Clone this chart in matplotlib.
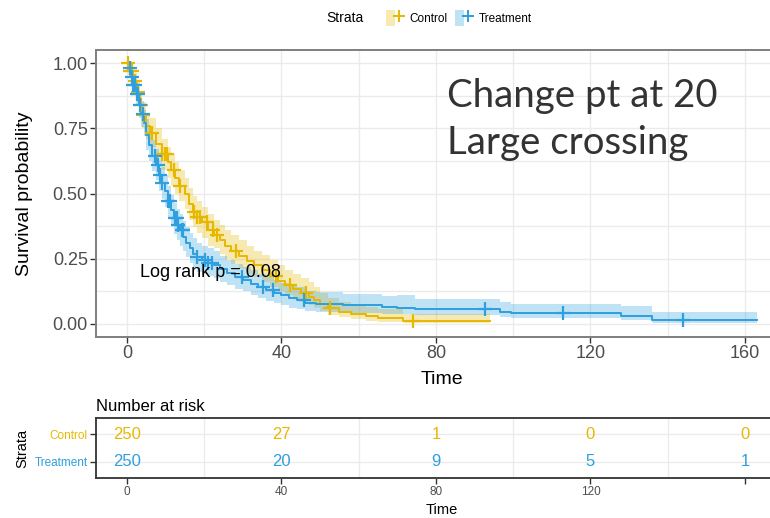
import numpy as np
import matplotlib.pyplot as plt
from matplotlib.patches import Patch
from matplotlib.lines import Line2D
from matplotlib.legend_handler import HandlerTuple

plt.rcParams['font.family'] = ['Liberation Sans', 'DejaVu Sans']

CTRL_COL = '#E7B800'
TRT_COL = '#2E9FDF'

# Kaplan-Meier steps: time, survival, lower / upper 95% CI
ctrl_time = [0, 0.8, 1.6, 2.5, 3.3, 4, 4.8, 6, 7.5, 9, 10.5, 11.5, 12.5, 13.5, 15, 16, 17, 18,
             19.5, 21, 22.5, 24, 25.5, 27, 29, 31, 33, 35, 37, 39, 41, 43, 45, 47, 48.5, 50,
             52, 55, 58, 62, 65, 71.5]
ctrl_surv = [1.00, 0.97, 0.93, 0.89, 0.84, 0.80, 0.76, 0.73, 0.69, 0.65, 0.62, 0.59, 0.56, 0.53,
             0.50, 0.46, 0.43, 0.41, 0.39, 0.36, 0.34, 0.32, 0.30, 0.28, 0.26, 0.24, 0.225, 0.205,
             0.185, 0.165, 0.15, 0.135, 0.12, 0.105, 0.09, 0.075, 0.06, 0.047, 0.038, 0.03, 0.024,
             0.012]
ctrl_lo = [1.00, 0.95, 0.90, 0.85, 0.80, 0.75, 0.71, 0.68, 0.63, 0.59, 0.56, 0.53, 0.50, 0.47,
           0.44, 0.40, 0.37, 0.35, 0.33, 0.30, 0.29, 0.27, 0.25, 0.23, 0.21, 0.19, 0.18, 0.16,
           0.14, 0.125, 0.11, 0.095, 0.085, 0.072, 0.06, 0.048, 0.036, 0.026, 0.019, 0.013,
           0.009, 0.002]
ctrl_hi = [1.00, 0.99, 0.96, 0.93, 0.89, 0.85, 0.81, 0.79, 0.75, 0.71, 0.68, 0.65, 0.62, 0.59,
           0.56, 0.52, 0.49, 0.47, 0.45, 0.42, 0.40, 0.38, 0.36, 0.34, 0.32, 0.30, 0.28, 0.265,
           0.245, 0.225, 0.205, 0.19, 0.175, 0.16, 0.14, 0.12, 0.10, 0.085, 0.075, 0.065, 0.058,
           0.040]
ctrl_end = 94.0
ctrl_cens = [0.3, 0.8, 1.3, 2.0, 2.8, 3.5, 4.1, 6.5, 9.0, 9.8, 10.4, 12.2, 13.7, 17.4, 18.2,
             18.9, 20.8, 22.3, 23.3, 28.3, 38.5, 42.2, 46.3, 52.6, 74.0]

trt_time = [0, 0.4, 1, 1.6, 2.3, 3, 3.7, 4.4, 5, 5.8, 6.6, 7.4, 8.3, 9, 9.8, 10.6, 11.4, 12.2,
            13, 13.8, 14.6, 15.4, 16.2, 17, 18, 19.5, 21, 22.5, 24, 26, 28, 30, 32, 34, 36, 38,
            40, 42, 44, 46, 49, 56, 66, 70, 74.5, 96.5, 99.5, 128, 136]
trt_surv = [1.00, 0.98, 0.945, 0.915, 0.88, 0.84, 0.805, 0.77, 0.725, 0.685, 0.645, 0.61, 0.57,
            0.54, 0.51, 0.47, 0.435, 0.405, 0.38, 0.36, 0.335, 0.31, 0.29, 0.27, 0.255, 0.245,
            0.235, 0.225, 0.21, 0.195, 0.18, 0.17, 0.155, 0.14, 0.13, 0.12, 0.11, 0.10, 0.093,
            0.082, 0.077, 0.073, 0.066, 0.063, 0.056, 0.047, 0.041, 0.031, 0.014]
trt_lo = [1.00, 0.96, 0.915, 0.88, 0.84, 0.79, 0.755, 0.72, 0.665, 0.625, 0.585, 0.55, 0.51,
          0.48, 0.45, 0.41, 0.375, 0.345, 0.32, 0.30, 0.28, 0.255, 0.235, 0.215, 0.20, 0.19,
          0.185, 0.175, 0.16, 0.148, 0.135, 0.125, 0.11, 0.098, 0.088, 0.08, 0.072, 0.063,
          0.057, 0.048, 0.044, 0.041, 0.037, 0.04, 0.035, 0.028, 0.023, 0.014, 0.004]
trt_hi = [1.00, 0.995, 0.975, 0.95, 0.92, 0.885, 0.855, 0.82, 0.785, 0.745, 0.705, 0.67, 0.63,
          0.60, 0.57, 0.53, 0.495, 0.465, 0.44, 0.42, 0.395, 0.37, 0.35, 0.33, 0.31, 0.30,
          0.29, 0.28, 0.26, 0.245, 0.23, 0.22, 0.205, 0.19, 0.18, 0.168, 0.158, 0.148, 0.14,
          0.128, 0.122, 0.116, 0.108, 0.11, 0.096, 0.086, 0.077, 0.068, 0.047]
trt_end = 163.0
trt_cens = [0.8, 1.3, 1.6, 2.1, 2.6, 2.9, 3.4, 4.2, 7.2, 8.0, 8.5, 9.0, 10.6, 11.1, 12.4, 12.9,
            13.2, 14.2, 14.5, 18.1, 20.2, 21.0, 22.0, 29.8, 35.2, 37.8, 45.8, 92.7, 113.0, 144.0]

risk_times = [0, 40, 80, 120, 160]
risk_ctrl = [250, 27, 1, 0, 0]
risk_trt = [250, 20, 9, 5, 1]

fig = plt.figure(figsize=(7.7, 5.18), dpi=100)
W, H = 770.0, 518.0
xlo, xhi = -8.0, 171.0
ppu = 3.8625  # pixels per time unit
left_px = 127 - 8 * ppu
width_px = (xhi - xlo) * ppu

ax = fig.add_axes([left_px / W, 1 - 337 / H, width_px / W, (337 - 50) / H])


def draw_km(ax, t, s, lo, hi, end, cens, col):
    t = np.append(t, end)
    s = np.append(s, s[-1])
    lo = np.append(lo, lo[-1])
    hi = np.append(hi, hi[-1])
    ax.fill_between(t, lo, hi, step='post', color=col, alpha=0.3, lw=0, zorder=2)
    ax.step(t, s, where='post', color=col, lw=1.4, zorder=3)
    idx = np.searchsorted(t[:-1], cens, side='right') - 1
    ax.plot(cens, s[idx], ls='none', marker='+', ms=10, mew=1.6, color=col, zorder=4)


draw_km(ax, ctrl_time, ctrl_surv, ctrl_lo, ctrl_hi, ctrl_end, ctrl_cens, CTRL_COL)
draw_km(ax, trt_time, trt_surv, trt_lo, trt_hi, trt_end, trt_cens, TRT_COL)

ax.set_xlim(xlo, xhi)
ax.set_ylim(-0.05, 1.05)
ax.set_xticks([0, 40, 80, 120, 160])
ax.set_xticks([20, 60, 100, 140], minor=True)
ax.set_yticks([0, 0.25, 0.5, 0.75, 1.0])
ax.set_yticks([0.125, 0.375, 0.625, 0.875], minor=True)
ax.set_yticklabels(['0.00', '0.25', '0.50', '0.75', '1.00'])
ax.grid(which='both', color='#EBEBEB', lw=1.0, zorder=0)
ax.set_axisbelow(True)
ax.tick_params(which='major', length=4, width=1, color='#333333', labelsize=13,
               labelcolor='#4D4D4D', pad=2)
ax.tick_params(which='minor', length=0)
for sp in ax.spines.values():
    sp.set_color('#7F7F7F')
    sp.set_linewidth(1.4)
ax.set_xlabel('Time', fontsize=14, labelpad=6)
ax.set_ylabel('Survival probability', fontsize=14, labelpad=14)
ax.text(3.4, 0.196, 'Log rank p = 0.08', fontsize=13, va='center', ha='left', zorder=5)

fig.text(447 / W, 1 - 96 / H, 'Change pt at 20', fontsize=27.6, family='Lato',
         color='#333333', va='center', ha='left')
fig.text(447 / W, 1 - 143 / H, 'Large crossing', fontsize=27.6, family='Lato',
         color='#333333', va='center', ha='left')

# legend at the top
fig.text(345 / W, 1 - 18 / H, 'Strata', fontsize=10, va='center', ha='center')
handles = [(Patch(color=CTRL_COL, alpha=0.3, lw=0),
            Line2D([], [], color=CTRL_COL, marker='+', ms=9, mew=1.4, lw=1.3)),
           (Patch(color=TRT_COL, alpha=0.3, lw=0),
            Line2D([], [], color=TRT_COL, marker='+', ms=9, mew=1.4, lw=1.3))]
fig.legend(handles, ['Control', 'Treatment'], ncol=2, loc='center left',
           bbox_to_anchor=(386 / W, 1 - 18 / H), frameon=False, fontsize=8.5,
           handler_map={tuple: HandlerTuple(ndivide=None, pad=0)},
           handlelength=1.5, handleheight=1.7, handletextpad=0.5, columnspacing=0.6,
           borderpad=0, borderaxespad=0)

# number at risk table
rax = fig.add_axes([left_px / W, 1 - 478 / H, width_px / W, 60 / H])
rax.set_xlim(xlo, xhi)
rax.set_ylim(0.4, 2.6)
for x, n in zip(risk_times, risk_ctrl):
    rax.text(x, 2, str(n), color=CTRL_COL, fontsize=12, ha='center', va='center')
for x, n in zip(risk_times, risk_trt):
    rax.text(x, 1, str(n), color=TRT_COL, fontsize=12, ha='center', va='center')
rax.set_xticks(risk_times)
rax.set_xticklabels(['0', '40', '80', '120', ''])
rax.set_yticks([1, 2])
rax.set_yticklabels(['Treatment', 'Control'])
for x in [20, 60, 100, 140]:
    rax.axvline(x, color='#EBEBEB', lw=1.0, zorder=0)
for y in [1, 2]:
    rax.axhline(y, color='#EBEBEB', lw=1.0, zorder=0)
rax.tick_params(length=4, width=1, color='#333333', labelsize=8.5, labelcolor='#4D4D4D', pad=2)
for lab, col in zip(rax.get_yticklabels(), [TRT_COL, CTRL_COL]):
    lab.set_color(col)
for sp in rax.spines.values():
    sp.set_color('#333333')
    sp.set_linewidth(1.3)
rax.set_xlabel('Time', fontsize=10.5, labelpad=3)
rax.set_ylabel('Strata', fontsize=10.5, labelpad=4)
rax.set_title('Number at risk', fontsize=12, loc='left', pad=5)

fig.savefig('out.png', dpi=100)
